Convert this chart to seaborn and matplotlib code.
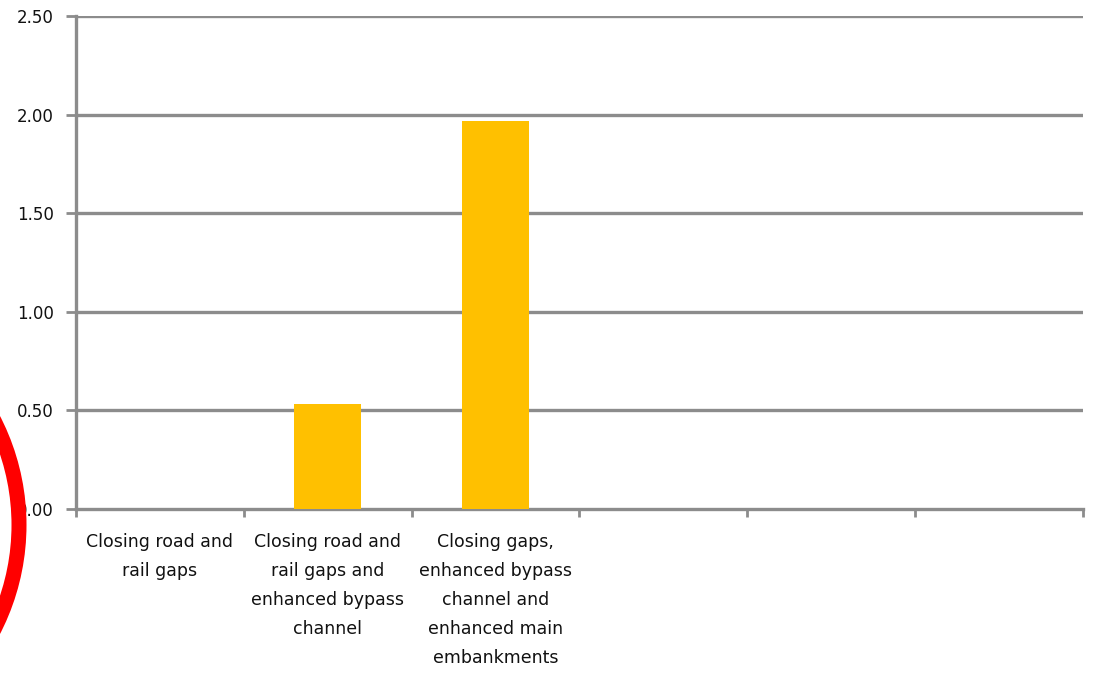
import matplotlib
matplotlib.use("Agg")
import matplotlib.pyplot as plt
import matplotlib.patches as mpatches
import seaborn as sns
import pandas as pd
import numpy as np

categories = [
    "Closing road and\nrail gaps",
    "Closing road and\nrail gaps and\nenhanced bypass\nchannel",
    "Closing gaps,\nenhanced bypass\nchannel and\nenhanced main\nembankments",
    " ",
    "  ",
    "   ",
]
values = [0.0, 0.53, 1.97, 0.0, 0.0, 0.0]
yticks = [0.0, 0.5, 1.0, 1.5, 2.0, 2.5]
ytick_labels = ["0.00", "0.50", "1.00", "1.50", "2.00", "2.50"]

df = pd.DataFrame({"category": categories, "value": values})

sns.set_theme(style="white")
plt.rcParams["font.family"] = ["DejaVu Sans"]

fig = plt.figure(figsize=(11.01, 6.81), dpi=100)
ax = fig.add_axes([76 / 1101, 1 - 509 / 681, (1083 - 76) / 1101, (509 - 16) / 681])

sns.barplot(data=df, x="category", y="value", order=categories, color="#FFC000",
            saturation=1, width=0.4, linewidth=0, edgecolor="none", ax=ax, zorder=3)

grid_c = "#8c8c8c"
ax.set_ylim(0, 2.5)
ax.set_xlim(-0.5, len(categories) - 0.5)
ax.set_yticks(yticks)
ax.set_yticklabels(ytick_labels, fontsize=12, color="#111111")
for y in yticks[1:]:
    ax.axhline(y, color=grid_c, lw=2.4, zorder=1)

# category boundaries as major ticks, labels on minor ticks
n = len(categories)
ax.set_xticks(np.arange(n + 1) - 0.5)
ax.set_xticklabels([""] * (n + 1))
ax.set_xticks(np.arange(n), minor=True)
ax.set_xticklabels(categories, minor=True, fontsize=12.5, color="#111111", linespacing=1.8, va="top")
ax.tick_params(axis="x", which="major", direction="out", length=6, width=2, color=grid_c, bottom=True)
ax.tick_params(axis="x", which="minor", length=0, pad=17)
ax.tick_params(axis="y", direction="out", length=7, width=2, color=grid_c, left=True, pad=9)
ax.set_xlabel("")
ax.set_ylabel("")

for s in ["top", "right"]:
    ax.spines[s].set_visible(False)
for s in ["left", "bottom"]:
    ax.spines[s].set_color(grid_c)
    ax.spines[s].set_linewidth(2.4)

# red annotation circle (partially outside the figure)
circ = mpatches.Circle((-211 / 100, (681 - 525) / 100), 2.30, transform=fig.dpi_scale_trans,
                       fill=False, edgecolor="#ff0000", lw=10.8, clip_on=False, zorder=10)
fig.add_artist(circ)

fig.savefig("out.png", dpi=100)
